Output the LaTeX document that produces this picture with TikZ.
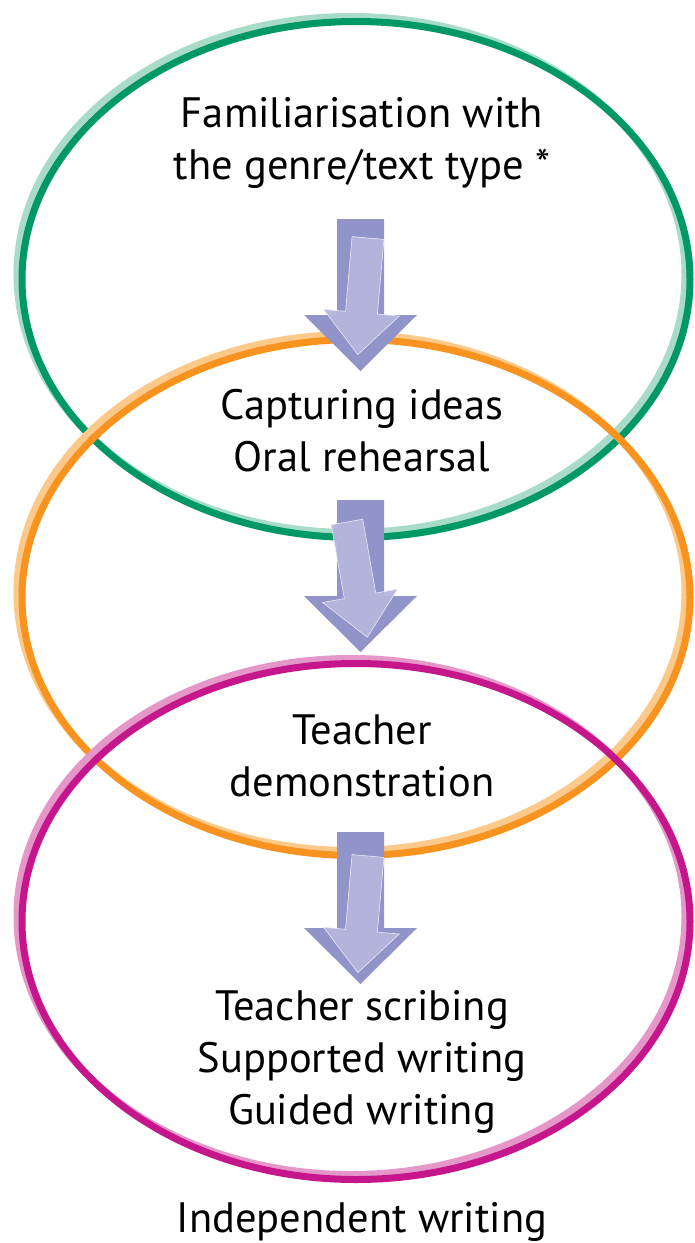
\documentclass[tikz,border=0pt]{standalone}
\usepackage{fontspec}
\setmainfont{PT Sans}
\definecolor{gdark}{HTML}{009865}
\definecolor{glight}{HTML}{A8DCC9}
\definecolor{odark}{HTML}{F7931E}
\definecolor{olight}{HTML}{FBC98A}
\definecolor{mdark}{HTML}{C5168C}
\definecolor{mlight}{HTML}{E597CA}
\definecolor{adark}{HTML}{9194C9}
\definecolor{alight}{HTML}{B4B6DD}
\newcommand{\darkarrow}[1]{%
  \begin{scope}[shift={#1}]
    \fill[adark] (-23.5,0) -- (23.5,0) -- (23.5,96) -- (56.5,96) -- (0,152) -- (-56.5,96) -- (-23.5,96) -- cycle;
  \end{scope}}
\newcommand{\lightarrow}[2]{%
  \begin{scope}[shift={#1},rotate=#2]
    \filldraw[fill=alight,draw=white!70!alight,line width=0.6pt,fill opacity=0.95] (-16,0) -- (16,0) -- (16,75) -- (38,75) -- (0,117) -- (-38,75) -- (-16,75) -- cycle;
  \end{scope}}
\begin{document}
\begin{tikzpicture}[x=1pt,y=-1pt,
  ringdark/.style={line width=7pt},
  ringlight/.style={line width=7pt},
  lbl/.style={align=center,font=\fontsize{42.5}{52}\selectfont,inner sep=0pt}]
\useasboundingbox (0,0) rectangle (695,1243);
\fill[white] (0,0) rectangle (695,1243);
% ellipses
\draw[ringlight,glight] (351,274.5) ellipse [x radius=334,y radius=258];
\draw[ringdark,gdark] (356,279.5) ellipse [x radius=334,y radius=258];
\draw[ringlight,olight] (351,592.5) ellipse [x radius=334,y radius=258];
\draw[ringdark,odark] (356,597.5) ellipse [x radius=334,y radius=258];
\draw[ringlight,mlight] (351,916.5) ellipse [x radius=334,y radius=258];
\draw[ringdark,mdark] (356,921.5) ellipse [x radius=334,y radius=258];
% arrows
\darkarrow{(360.5,219)}
\lightarrow{(368,238)}{-5}
\darkarrow{(360.5,500)}
\lightarrow{(347,522)}{10}
\darkarrow{(360.5,832)}
\lightarrow{(368,856)}{-5}
% texts
\node[lbl] (t1) at (362,143) {Familiarisation with\\the genre/text type *};
\node[lbl] (t2) at (362,431) {Capturing ideas\\Oral rehearsal};
\node[lbl] (t3) at (362,756) {Teacher\\demonstration};
\node[lbl] (t4) at (362,1062) {Teacher scribing\\Supported writing\\Guided writing};
\node[lbl] (t5) at (362,1222) {Independent writing};
\end{tikzpicture}
\end{document}
